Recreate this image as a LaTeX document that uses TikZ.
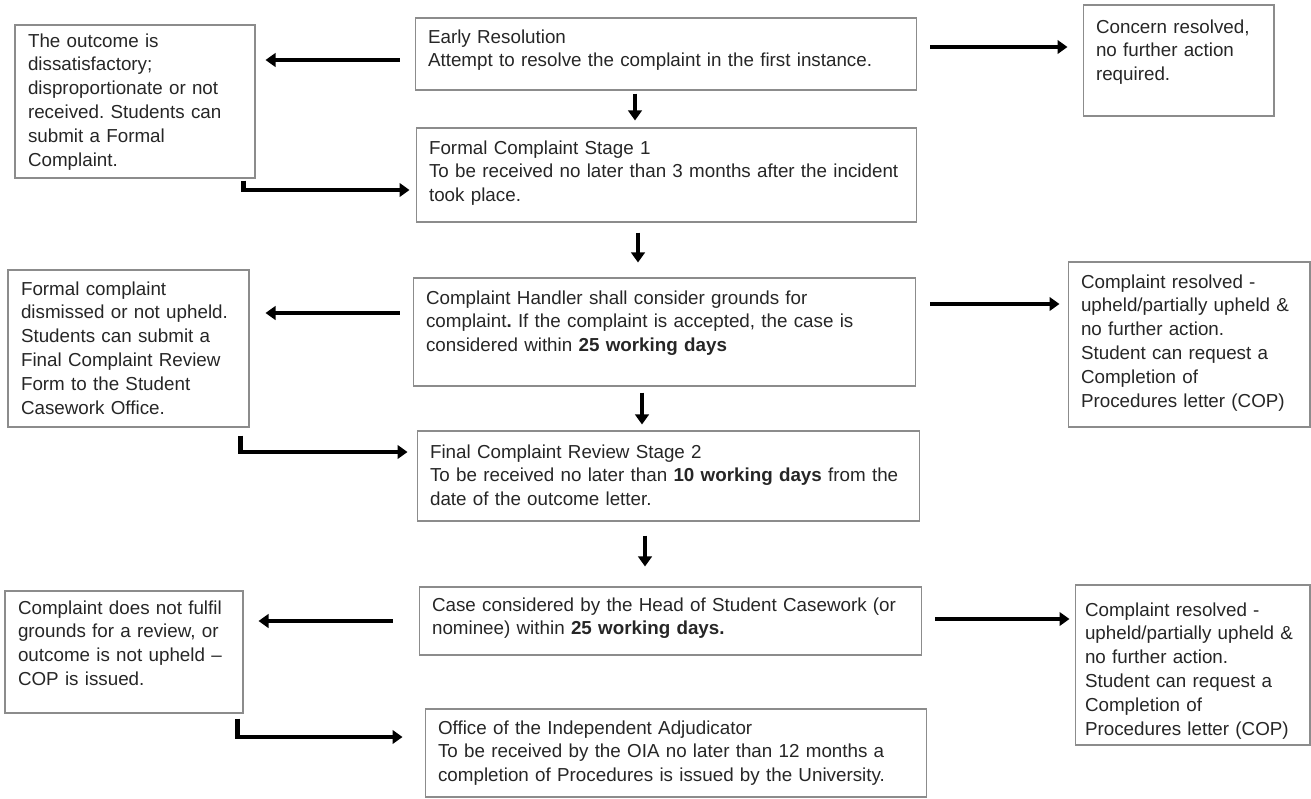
\documentclass[tikz,border=0pt]{standalone}
\usepackage{fontspec}
\setmainfont{Liberation Sans}
\frenchspacing
\usetikzlibrary{arrows.meta, positioning, calc}
\tikzset{
  stepbox/.style={
    rectangle, draw=gray!90, line width=0.6pt,
    align=left, inner xsep=0.26cm, inner ysep=0pt,
    font=\fontsize{10.7}{13.6}\selectfont, text=black!85
  },
  flowarrow/.style={-{Triangle[length=0.2cm, width=0.27cm]}, line width=2.6pt, black},
  elbowarrow/.style={flowarrow, line join=miter},
}

\begin{document}
\begin{tikzpicture}[x=0.02cm, y=-0.02cm]
    \useasboundingbox (0,0) rectangle (1311,798);

    % main column
    \node[stepbox, text width=9.52cm, text height=0.5cm, text depth=0.94cm] (early) at (666,54)
         {Early Resolution\\Attempt to resolve the complaint in the first instance.};
    \node[stepbox, text width=9.5cm, text height=0.52cm, text depth=1.36cm] (stage1) at (666.5,175)
         {Formal Complaint Stage 1\\To be received no later than 3 months after the incident\\took place.};
    \node[stepbox, text width=9.54cm, text height=0.52cm, text depth=1.64cm] (handler) at (664.5,332)
         {Complaint Handler shall consider grounds for\\complaint\textbf{.} If the complaint is accepted, the case is\\considered within \textbf{25 working days}};
    \node[stepbox, text width=9.54cm, text height=0.54cm, text depth=1.26cm] (stage2) at (668.5,476)
         {Final Complaint Review Stage 2\\To be received no later than \textbf{10 working days} from the\\date of the outcome letter.};
    \node[stepbox, text width=9.54cm, text height=0.48cm, text depth=0.88cm] (casehead) at (670.5,621)
         {Case considered by the Head of Student Casework (or\\nominee) within \textbf{25 working days.}};
    \node[stepbox, text width=9.52cm, text height=0.5cm, text depth=1.26cm] (oia) at (676,753)
         {Office of the Independent Adjudicator\\To be received by the OIA no later than 12 months a\\completion of Procedures is issued by the University.};

    % left column
    \node[stepbox, text width=4.28cm, text height=0.44cm, text depth=2.62cm] (formalout) at (135,101.5)
         {The outcome is\\dissatisfactory;\\disproportionate or not\\received. Students can\\submit a Formal\\Complaint.};
    \node[stepbox, text width=4.3cm, text height=0.5cm, text depth=2.64cm] (dismissed) at (128.5,348.5)
         {Formal complaint\\dismissed or not upheld.\\Students can submit a\\Final Complaint Review\\Form to the Student\\Casework Office.};
    \node[stepbox, text width=4.24cm, text height=0.46cm, text depth=1.98cm] (nofulfil) at (124,652)
         {Complaint does not fulfil\\grounds for a review, or\\outcome is not upheld –\\COP is issued.};

    % right column
    \node[stepbox, text width=3.3cm, text height=0.56cm, text depth=1.66cm] (resolved) at (1178.5,60.5)
         {Concern resolved,\\no further action\\required.};
    \node[stepbox, text width=4.32cm, text height=0.52cm, text depth=2.78cm] (upheldA) at (1189,344.5)
         {Complaint resolved -\\upheld/partially upheld \&\\no further action.\\Student can request a\\Completion of\\Procedures letter (COP)};
    \node[stepbox, inner xsep=0.2cm, text width=4.3cm, text height=0.62cm, text depth=2.58cm] (upheldB) at (1192.5,665)
         {Complaint resolved -\\upheld/partially upheld \&\\no further action.\\Student can request a\\Completion of\\Procedures letter (COP)};

    % sideways
    \draw[flowarrow] ($(early.west)+(-15,6)$) -- ($(formalout.east |- early.west)+(10,6)$);
    \draw[flowarrow] ($(early.east)+(13,-7)$) -- ($(resolved.west |- early.east)+(-15,-7)$);
    \draw[flowarrow] ($(handler.west)+(-13,-19)$) -- ($(dismissed.east |- handler.west)+(16,-19)$);
    \draw[flowarrow] ($(handler.east)+(14,-28)$) -- ($(upheldA.west |- handler.east)+(-8,-28)$);
    \draw[flowarrow] ($(casehead.west)+(-26,0)$) -- ($(nofulfil.east |- casehead.west)+(15,0)$);
    \draw[flowarrow] ($(casehead.east)+(13,-2)$) -- ($(upheldB.west |- casehead.east)+(-5,-2)$);

    % down
    \draw[flowarrow] ($(early.south)+(-31,3)$) -- ($(stage1.north)+(-31.5,-7)$);
    \draw[flowarrow] ($(stage1.south)+(-28.5,10)$) -- ($(handler.north)+(-26.5,-15)$);
    \draw[flowarrow] ($(handler.south)+(-22.5,6)$) -- ($(stage2.north)+(-26.5,-6)$);
    \draw[flowarrow] ($(stage2.south)+(-23.5,14)$) -- ($(casehead.north)+(-25.5,-20)$);

    % back into the main column
    \draw[elbowarrow] ($(formalout.south east)+(-12,2)$) |- ($(stage1.west)+(-6,15)$);
    \draw[elbowarrow] ($(dismissed.south east)+(-9,8)$) |- ($(stage2.west)+(-9,-24)$);
    \draw[elbowarrow] ($(nofulfil.south east)+(-6,5)$) |- ($(oia.west)+(-22,-16)$);
\end{tikzpicture}
\end{document}
